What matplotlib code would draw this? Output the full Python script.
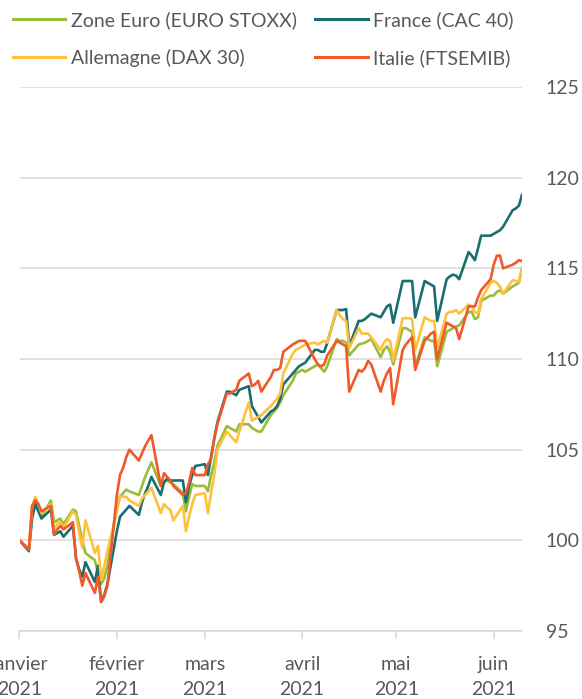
import pandas as pd
import matplotlib.pyplot as plt

# Indices boursiers, base 100 au 1er janvier 2021 (jours ouvrés)
dates = pd.bdate_range('2021-01-01', '2021-06-10')

zone_euro = [
    100, 99.5, 101.6, 102.3, 101.9, 101.3, 102.2, 101.0, 101.1, 101.2, 100.9,
    101.7, 101.6, 100.8, 100.0, 99.3, 98.9, 98.2, 97.6, 97.9, 98.6,
    101.8, 102.4, 102.6, 102.8, 102.7, 102.5, 103.0, 103.5, 103.9, 104.3,
    103.0, 103.2, 103.3, 103.2, 103.1, 102.6, 101.6, 102.4, 103.1, 103.0,
    103.0, 102.7, 103.6, 104.3, 105.2, 106.3, 106.2, 106.1, 106.0, 106.4, 106.4, 106.2,
    106.1, 106.0, 106.0, 106.9, 107.1, 107.3, 107.6, 108.0, 108.8, 109.2, 109.3,
    109.4, 109.3, 109.6, 109.7, 109.5, 109.3, 109.6, 111.1, 111.0, 111.0, 110.9,
    110.2, 110.8, 110.85, 110.9, 111.0, 111.1, 110.1, 110.5, 110.7, 110.4, 109.7,
    111.7, 111.7, 111.6, 111.5, 109.6, 111.2, 111.1, 111.0, 111.0, 109.6, 111.5,
    111.6, 111.7, 111.8, 111.85, 112.6, 112.6, 112.2, 112.3, 113.2, 113.5,
    113.5, 113.7, 113.8, 113.6, 114.0, 114.1, 114.2, 115.0,
]

france = [
    100, 99.4, 101.2, 102.0, 101.6, 101.2, 101.7, 100.3, 100.4, 100.5, 100.2,
    100.8, 99.0, 98.4, 98.0, 98.8, 97.7, 98.6, 96.6, 97.0, 97.6,
    100.5, 101.3, 101.5, 101.7, 101.9, 101.4, 102.1, 102.6, 103.0, 103.5,
    102.5, 103.2, 103.4, 103.3, 103.3, 103.3, 102.1, 103.0, 103.6, 104.1,
    104.2, 103.6, 104.6, 105.6, 106.5, 108.2, 108.2, 108.1, 108.0, 108.3, 108.5, 107.4,
    107.1, 106.8, 106.5, 107.1, 107.2, 107.4, 107.8, 108.6, 109.2, 109.4, 109.6,
    109.7, 109.8, 110.5, 110.5, 110.4, 110.4, 110.9, 112.7, 112.7, 112.7, 112.75,
    110.7, 112.1, 112.1, 112.2, 112.35, 112.5, 112.3, 112.6, 112.9, 113.0, 112.0,
    114.3, 114.3, 114.3, 114.3, 112.3, 114.3, 114.2, 114.1, 114.0, 112.1, 114.4,
    114.55, 114.65, 114.6, 114.4, 115.9, 115.7, 115.45, 116.1, 116.8, 116.8,
    116.9, 117.0, 117.1, 117.3, 118.2, 118.3, 118.45, 119.05,
]

allemagne = [
    100, 99.5, 101.8, 102.4, 102.0, 101.5, 102.0, 100.6, 100.9, 101.0, 100.7,
    101.6, 101.4, 100.4, 99.6, 101.1, 99.3, 99.7, 97.8, 98.6, 99.4,
    101.6, 102.4, 102.4, 102.4, 102.2, 101.9, 102.3, 102.5, 102.7, 102.9,
    101.5, 102.0, 101.8, 101.7, 101.1, 101.9, 100.5, 101.3, 102.0, 102.5,
    102.6, 101.5, 102.6, 103.6, 105.0, 106.0, 105.8, 105.6, 105.4, 106.0, 107.6, 106.6,
    106.7, 106.8, 106.9, 107.4, 107.6, 107.8, 108.1, 109.2, 110.3, 110.5, 110.6,
    110.7, 110.8, 110.9, 110.8, 110.9, 111.0, 110.9, 112.7, 112.4, 112.2, 112.1,
    110.6, 111.7, 111.4, 111.4, 111.4, 111.2, 110.5, 110.9, 111.1, 111.0, 109.9,
    112.25, 112.25, 112.25, 112.2, 110.5, 112.3, 112.2, 112.1, 112.1, 110.6, 112.5,
    112.6, 112.6, 112.7, 112.5, 113.0, 112.9, 112.6, 112.5, 113.3, 114.2,
    114.3, 114.2, 114.0, 113.6, 114.35, 114.3, 114.25, 115.0,
]

italie = [
    100, 99.5, 101.9, 102.2, 102.0, 101.6, 101.9, 100.3, 100.6, 100.8, 100.6,
    101.0, 99.0, 98.3, 97.5, 98.2, 97.1, 98.0, 96.6, 96.9, 97.5,
    102.5, 103.6, 104.0, 104.6, 105.0, 104.4, 104.8, 105.2, 105.5, 105.8,
    103.0, 103.7, 103.5, 103.3, 103.0, 102.5, 102.6, 103.2, 104.0, 103.6,
    103.6, 104.2, 104.5, 105.6, 106.4, 108.1, 108.1, 108.2, 108.3, 108.8, 109.2, 108.5,
    108.6, 108.8, 108.2, 109.0, 109.4, 109.4, 109.5, 110.4, 110.8, 110.9, 111.0,
    111.0, 111.0, 110.0, 109.7, 109.6, 109.7, 110.2, 111.0, 110.9, 110.8, 110.7,
    108.2, 109.4, 109.3, 109.5, 109.9, 109.7, 108.2, 108.8, 109.2, 109.5, 107.5,
    110.5, 110.8, 111.0, 111.2, 109.4, 111.0, 111.2, 111.4, 111.5, 110.0, 112.0,
    111.9, 111.8, 111.7, 111.1, 112.9, 112.9, 112.9, 113.4, 113.8, 114.4,
    115.2, 115.7, 115.7, 115.0, 115.2, 115.3, 115.45, 115.4,
]

month_starts = pd.date_range('2021-01-01', '2021-06-01', freq='MS')
month_labels = ['janvier\n2021', 'février\n2021', 'mars\n2021',
                'avril\n2021', 'mai\n2021', 'juin\n2021']

series = [
    ('Zone Euro (EURO STOXX)', zone_euro, '#9BBB3B'),
    ('France (CAC 40)', france, '#1A6E72'),
    ('Allemagne (DAX 30)', allemagne, '#FDC13C'),
    ('Italie (FTSEMIB)', italie, '#F0592A'),
]

TEXT = '#595959'
GRID = '#D9D9D9'
FS = 14

plt.rcParams['font.family'] = ['Lato', 'DejaVu Sans']

fig = plt.figure(figsize=(5.82, 6.99), dpi=100)
ax = fig.add_axes([19.5 / 582, 68 / 699, (522 - 19.5) / 582, (631 - 87) / 699])

handles = {}
for label, vals, color in series:
    line, = ax.plot(dates, vals, color=color, lw=1.9, label=label,
                    solid_joinstyle='round')
    handles[label] = line

ax.set_ylim(95, 125)
ax.set_yticks(range(95, 126, 5))
ax.yaxis.tick_right()
ax.tick_params(axis='y', length=0, pad=17, labelsize=FS, labelcolor=TEXT)
ax.grid(axis='y', color=GRID, lw=1.1)
ax.set_axisbelow(True)

ax.set_xlim(pd.Timestamp('2021-01-01'), pd.Timestamp('2021-06-10'))
ax.set_xticks(month_starts)
ax.set_xticklabels(month_labels, linespacing=1.55)
ax.tick_params(axis='x', length=6, width=1.1, color=GRID, labelsize=FS,
               labelcolor=TEXT, pad=12)

for s in ['top', 'left', 'right']:
    ax.spines[s].set_visible(False)
ax.spines['bottom'].set_color(GRID)
ax.spines['bottom'].set_linewidth(1.1)

# legend: row 1 Zone Euro / France, row 2 Allemagne / Italie
order = ['Zone Euro (EURO STOXX)', 'Allemagne (DAX 30)',
         'France (CAC 40)', 'Italie (FTSEMIB)']
leg = fig.legend([handles[k] for k in order], order, loc='upper left',
                 bbox_to_anchor=(0.015, 0.99), ncol=2, frameon=False,
                 fontsize=FS, handlelength=2.7, handletextpad=0.28,
                 columnspacing=0.95, labelspacing=1.05, borderaxespad=0,
                 borderpad=0.2)
for t in leg.get_texts():
    t.set_color(TEXT)
for l in leg.get_lines():
    l.set_linewidth(2.2)

fig.savefig('out.png', dpi=100)
